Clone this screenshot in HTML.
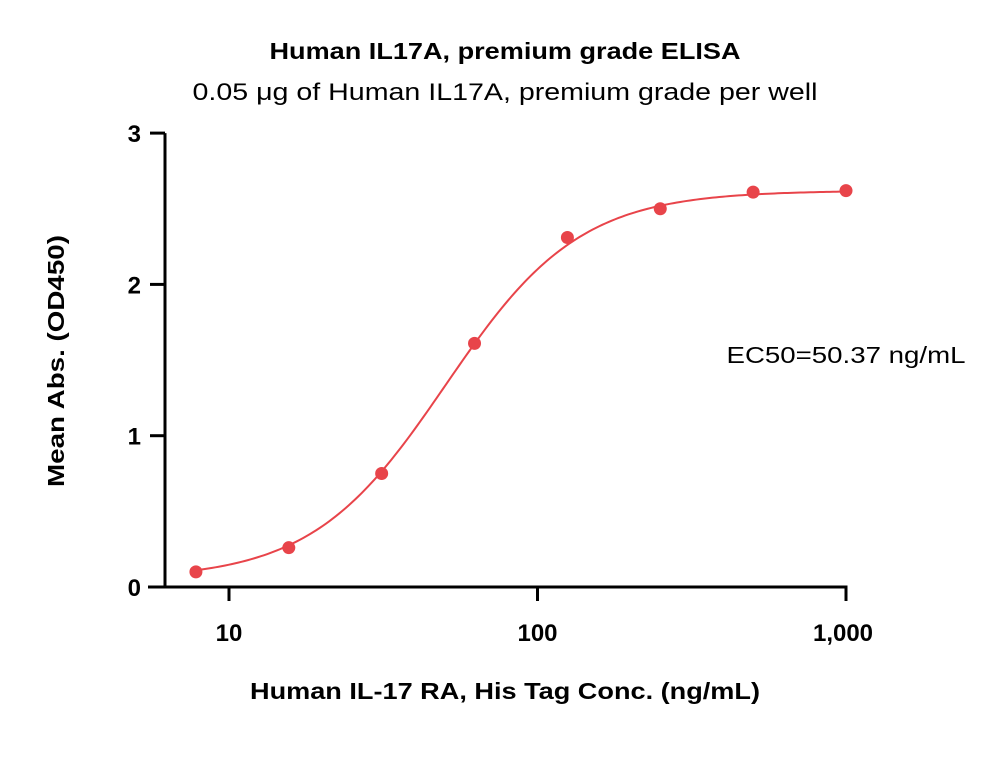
<!DOCTYPE html>
<html><head><meta charset="utf-8">
<style>
html,body{margin:0;padding:0;background:#fff;}
svg{display:block;font-family:"Liberation Sans",Arial,sans-serif;}
</style></head>
<body>
<svg id="chart" width="1000" height="779" viewBox="0 0 1000 779">
  <text x="505" y="59" text-anchor="middle" font-size="23" font-weight="bold" fill="#000" textLength="471" lengthAdjust="spacingAndGlyphs">Human IL17A, premium grade ELISA</text>
  <text x="505" y="100" text-anchor="middle" font-size="24" fill="#000" textLength="625" lengthAdjust="spacingAndGlyphs">0.05 μg of Human IL17A, premium grade per well</text>
  <text x="846" y="363" text-anchor="middle" font-size="23" fill="#000" textLength="239" lengthAdjust="spacingAndGlyphs">EC50=50.37 ng/mL</text>
  <text x="505" y="699" text-anchor="middle" font-size="23" font-weight="bold" fill="#000" textLength="510" lengthAdjust="spacingAndGlyphs">Human IL-17 RA, His Tag Conc. (ng/mL)</text>
  <text transform="translate(64,361) rotate(-90)" text-anchor="middle" font-size="23" font-weight="bold" fill="#000" textLength="252" lengthAdjust="spacingAndGlyphs">Mean Abs. (OD450)</text>
  <g id="axes"></g>
  <g id="curve"></g>
  <g id="points"></g>
</svg>
<script>
const concentrations = [7.8125, 15.625, 31.25, 62.5, 125, 250, 500, 1000];
const absorbance = [0.10, 0.26, 0.75, 1.61, 2.31, 2.50, 2.61, 2.62];
const yTicks = [0, 1, 2, 3];
const yTickLabels = ["0", "1", "2", "3"];
const xTicks = [10, 100, 1000];
const xTickLabels = ["10", "100", "1,000"];
const fitBottom = 0.05, fitTop = 2.62, fitEC50 = 50.37, fitHill = 2.0;

const NS = "http://www.w3.org/2000/svg";
const X0 = 229, XPD = 308.5, Y0 = 587, YPU = 151.3;
function xs(v){ return X0 + (Math.log10(v) - 1) * XPD; }
function ys(v){ return Y0 - v * YPU; }
function mk(tag, attrs, parent){ const e = document.createElementNS(NS, tag); for (const k in attrs) e.setAttribute(k, attrs[k]); parent.appendChild(e); return e; }

const axes = document.getElementById('axes');
let yl = mk('line', {x1:165, y1:ys(3), x2:165, y2:Y0, stroke:'#000', 'stroke-width':3}, axes);


let xl = mk('line', {x1:148, y1:Y0, x2:xs(1000)+1.5, y2:Y0, stroke:'#000', 'stroke-width':3}, axes);


yTicks.forEach((t, i) => {
  const tk = mk('line', {x1:150, y1:ys(t), x2:165, y2:ys(t), stroke:'#000', 'stroke-width':3}, axes);
  
  
  const tx = mk('text', {x:141, y:ys(t)+9, 'text-anchor':'end', 'font-size':24, 'font-weight':'bold'}, axes);
  tx.textContent = yTickLabels[i];
  
  
});
xTicks.forEach((t, i) => {
  const tk = mk('line', {x1:xs(t), y1:Y0, x2:xs(t), y2:Y0+14, stroke:'#000', 'stroke-width':3}, axes);
  
  
  const tx = mk('text', {x:xs(t)+(i===2?-3:0), y:Y0+54, 'text-anchor':'middle', 'font-size':24, 'font-weight':'bold'}, axes);
  tx.textContent = xTickLabels[i];
  
  
});

function fit(x){ return fitBottom + (fitTop - fitBottom) / (1 + Math.pow(fitEC50 / x, fitHill)); }
let d = '';
const lo = Math.log10(concentrations[0]), hi = Math.log10(concentrations[concentrations.length-1]);
for (let i = 0; i <= 200; i++){
  const lx = lo + (hi - lo) * i / 200, v = Math.pow(10, lx);
  d += (i ? 'L' : 'M') + xs(v).toFixed(2) + ',' + ys(fit(v)).toFixed(2);
}
const cp = mk('path', {d:d, fill:'none', stroke:'#e8444a', 'stroke-width':2}, document.getElementById('curve'));



const pts = document.getElementById('points');
concentrations.forEach((c, i) => {
  const p = mk('circle', {cx:xs(c), cy:ys(absorbance[i]), r:6.5, fill:'#e8444a'}, pts);
  
  
});
</script>
</body></html>
